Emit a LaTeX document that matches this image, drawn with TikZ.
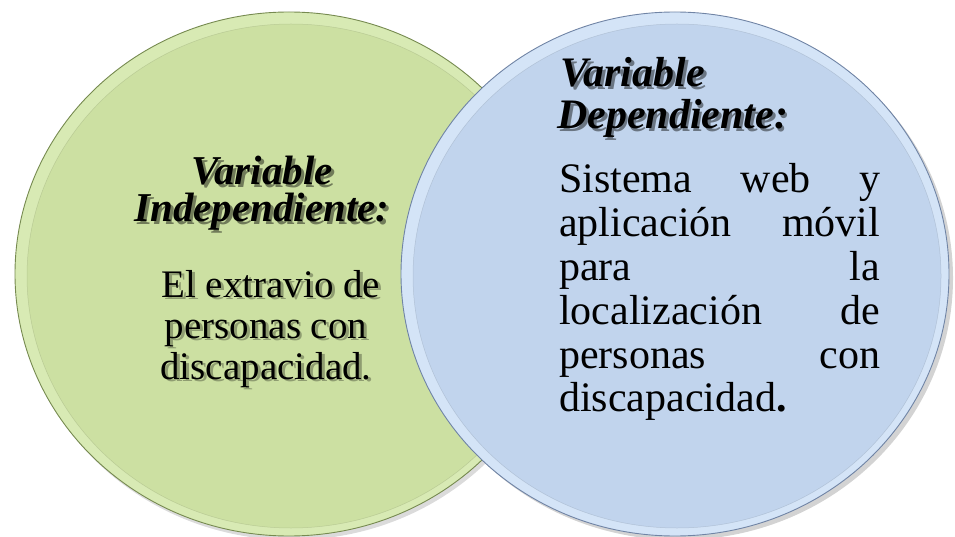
\documentclass[tikz,border=0pt]{standalone}
\usepackage{fontspec}
\setmainfont{Liberation Serif}
\definecolor{gfill}{RGB}{204,224,162}
\definecolor{gband}{RGB}{216,234,180}
\definecolor{gline}{RGB}{118,138,80}
\definecolor{bfill}{RGB}{193,212,237}
\definecolor{bband}{RGB}{212,228,247}
\definecolor{bline}{RGB}{112,132,165}
% text with a drop shadow: #1 shadow colour, #2 text
\newcommand\shtxt[2]{\makebox[0pt][l]{\hspace{2.8pt}\raisebox{-2.8pt}{\textcolor{#1}{#2}}}#2}
% centred lines, first baseline = box baseline
\newcommand\clines[2]{\vtop{\baselineskip=#1\lineskiplimit=-\maxdimen\lineskip=0pt\halign{\hfil##\hfil\cr#2\crcr}}}
% stacked full lines, first baseline = box baseline
\newcommand\jlines[2]{\vtop{\hsize=321pt\baselineskip=#1\lineskiplimit=-\maxdimen\lineskip=0pt\parindent=0pt#2}}
\tikzset{
  headl/.style={font=\fontsize{41}{41}\selectfont\bfseries\itshape, inner sep=0pt, anchor=base},
  bodyl/.style={font=\fontsize{39}{39}\selectfont, inner sep=0pt, anchor=base},
  headr/.style={font=\fontsize{42}{42}\selectfont\bfseries\itshape, inner sep=0pt, anchor=base west},
  bodyr/.style={font=\fontsize{42}{42}\selectfont, inner sep=0pt, anchor=base west},
}
\begin{document}
\begin{tikzpicture}[x=1pt,y=-1pt]
\useasboundingbox (0,0) rectangle (955,537);
% green circle
\fill[black!40, opacity=0.35] (292,278) ellipse [x radius=274, y radius=262];
\fill[gband] (289,274) ellipse [x radius=274, y radius=262];
\fill[gfill] (291,276) ellipse [x radius=264, y radius=252];
\draw[gfill!80!black, line width=0.5, opacity=0.5] (291,276) ellipse [x radius=264, y radius=252];
\draw[gline, line width=0.9] (289,274) ellipse [x radius=274, y radius=262];
% blue circle
\fill[black!50, opacity=0.35] (679,278) ellipse [x radius=274, y radius=262];
\fill[bband] (675,274) ellipse [x radius=274, y radius=262];
\fill[bfill] (677,276) ellipse [x radius=264, y radius=252];
\draw[bfill!80!black, line width=0.5, opacity=0.5] (677,276) ellipse [x radius=264, y radius=252];
\draw[bline, line width=0.9] (675,274) ellipse [x radius=274, y radius=262];
% left texts
\node[headl] (lhead) at (262,185) {\clines{37pt}{%
  \shtxt{gfill!55!black}{Variable}\cr
  \shtxt{gfill!55!black}{Independiente:}}};
\node[bodyl] (lbody) at (266,297) {\clines{41pt}{%
  \shtxt{gfill!70!black}{\ El extravio de}\cr
  \shtxt{gfill!70!black}{personas con}\cr
  \shtxt{gfill!70!black}{discapacidad.}}};
% right texts
\node[headr] (rhead) at (557,87) {\vtop{\baselineskip=42pt\lineskiplimit=-\maxdimen\lineskip=0pt
  \hbox{\hspace{3pt}\shtxt{bfill!55!black}{Variable}}
  \hbox{\shtxt{bfill!55!black}{Dependiente:}}}};
\node[bodyr] (rbody) at (559,193) {\jlines{43.8pt}{%
  \hbox to 321pt{Sistema\hfill web\hfill y}
  \hbox to 321pt{aplicación\hfill móvil}
  \hbox to 321pt{para\hfill la}
  \hbox to 321pt{localización\hfill de}
  \hbox to 321pt{personas\hfill con}
  \hbox to 321pt{discapacidad\textbf{.}\hfill}}};
\end{tikzpicture}
\end{document}
